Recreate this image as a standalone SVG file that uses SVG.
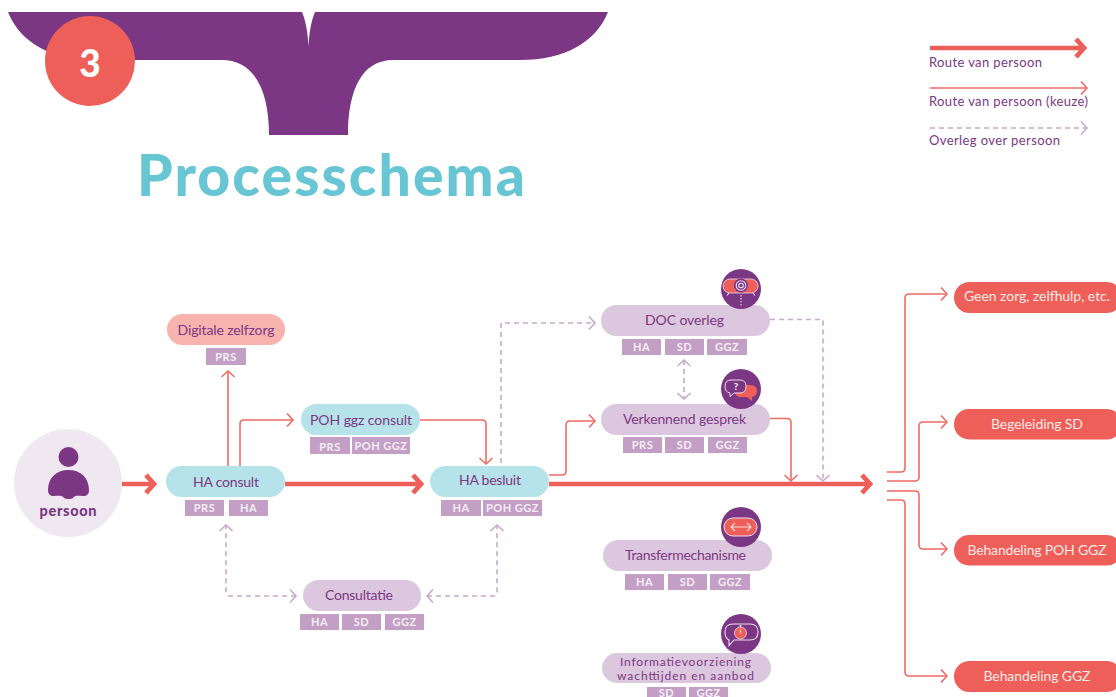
<svg xmlns="http://www.w3.org/2000/svg" width="1116" height="697" viewBox="0 0 1116 697">
<style>
text{font-family:"Lato","Liberation Sans",sans-serif}
.p{fill:#dcc8de}.b{fill:#b6e3ea}.r{fill:#ee5f59}.k{fill:#f8b3ae}
.l{font-size:14px;fill:#7c3784;text-anchor:middle}
.w{font-size:14px;fill:#fde9e6;text-anchor:middle}
.g{font-size:13px;fill:#7c3784}
.t{fill:#c39fc5}
.u{font-size:11px;font-weight:700;fill:#f6eef6;text-anchor:middle;letter-spacing:.5px}
.thin{fill:none;stroke:#ee6b64;stroke-width:1.6;marker-end:url(#ah)}
.thick{fill:none;stroke:#ee5f59;stroke-width:4.5;marker-end:url(#aT)}
.dash{fill:none;stroke:#c9a8cc;stroke-width:1.6;stroke-dasharray:5 4;marker-end:url(#ad)}
.both{marker-start:url(#ad)}
.ic{fill:#7c3784}
.o{fill:none;stroke:#ecdcee;stroke-width:1.1}
</style>
<defs>
<marker id="ah" markerUnits="userSpaceOnUse" markerWidth="16" markerHeight="18" refX="13" refY="9" orient="auto"><path d="M7 2.500L13 9L7 15.500" fill="none" stroke="#ee6b64" stroke-width="1.600"/></marker>
<marker id="ad" markerUnits="userSpaceOnUse" markerWidth="16" markerHeight="18" refX="13" refY="9" orient="auto-start-reverse"><path d="M7 2.500L13 9L7 15.500" fill="none" stroke="#c9a8cc" stroke-width="1.600"/></marker>
<marker id="aT" markerUnits="userSpaceOnUse" markerWidth="20" markerHeight="26" refX="15" refY="13" orient="auto"><path d="M6 4L14 13L6 22" fill="none" stroke="#ee5f59" stroke-width="4.800"/></marker>
</defs>

<g id="header">
<path class="ic" d="M8 12H302C305.500 20 307.800 32 308.500 46.500C309.200 32 311.500 20 315 12H608C596 42 565 60 520 60H393C362 60 348 90 348 135H269C269 90 254 60 222 60H96C50 60 20 42 8 12Z"/>
<circle class="r" cx="90" cy="61" r="45"/>
<text x="90" y="77" font-size="37" font-weight="900" fill="#fff" text-anchor="middle">3</text>
<text x="137" y="196" font-size="57" font-weight="900" fill="#67c5d4" textLength="388">Processchema</text>
</g>

<g id="legend">
<path class="thick" d="M930 48H1085"/>
<text class="g" x="929" y="67" textLength="113">Route van persoon</text>
<path class="thin" d="M930 88H1087"/>
<text class="g" x="929" y="106" textLength="159">Route van persoon (keuze)</text>
<path class="dash" d="M930 128H1087"/>
<text class="g" x="929" y="145" textLength="131">Overleg over persoon</text>
</g>

<g id="connectors">
<path class="thick" d="M122 484H155"/>
<path class="thick" d="M285 484H422"/>
<path class="thick" d="M549 484H871"/>
<path class="thin" d="M228 466V371"/>
<path class="thin" d="M240 466V424Q240 420 244 420H293"/>
<path class="thin" d="M420 420H482Q486 420 486 424V464"/>
<path class="thin" d="M549 475H562Q566 475 566 471V425Q566 421 570 421H595"/>
<path class="thin" d="M770 418.500H787Q791 418.500 791 422.500V481"/>
<path class="dash" d="M501 463V323H595"/>
<path class="dash" d="M770 319.500H823V481"/>
<path class="dash both" d="M684 360V399"/>
<path class="dash both" d="M296 596H230Q226 596 226 592V525"/>
<path class="dash both" d="M427 596H493Q497 596 497 592V525"/>
<path class="thin" d="M887 472H901Q905 472 905 468V298Q905 294 909 294H947"/>
<path class="thin" d="M887 481H915Q919 481 919 477V426Q919 422 923 422H947"/>
<path class="thin" d="M887 491H915Q919 491 919 495V545Q919 549 923 549H947"/>
<path class="thin" d="M887 500H901Q905 500 905 504V672Q905 676 909 676H947"/>
</g>

<g id="persoon">
<circle cx="68" cy="483" r="54" fill="#efe8f1"/>
<circle class="ic" cx="68.500" cy="457" r="10"/>
<path class="ic" d="M48 490C48 477 57 470 68.500 470C80 470 89 477 89 490C89 494 87 496 83 496C78 496 75 495 73 498Q72 499 68.500 499Q65 499 64 498C62 495 59 496 54 496C50 496 48 494 48 490Z"/>
<text x="68" y="516" font-size="14.500" font-weight="900" fill="#7c3784" text-anchor="middle" textLength="57">persoon</text>
</g>

<g id="digitale-zelfzorg">
<rect class="k" x="167" y="314" width="118" height="31" rx="15.500"/>
<text class="l" x="226" y="335" textLength="97">Digitale zelfzorg</text>
<rect class="t" x="206" y="348" width="40" height="17"/><text class="u" x="226" y="360.500">PRS</text>
</g>

<g id="ha-consult">
<rect class="b" x="166" y="466" width="119" height="31" rx="15.500"/>
<text class="l" x="226" y="486.500" textLength="66">HA consult</text>
<rect class="t" x="185" y="500" width="39" height="16"/><text class="u" x="204.500" y="512">PRS</text>
<rect class="t" x="229" y="500" width="39" height="16"/><text class="u" x="248.500" y="512">HA</text>
</g>

<g id="poh-ggz-consult">
<rect class="b" x="301" y="404" width="119" height="31" rx="15.500"/>
<text class="l" x="361" y="424.500" textLength="102">POH ggz consult</text>
<rect class="t" x="310" y="437" width="40" height="17"/><text class="u" x="330" y="451">PRS</text>
<rect class="t" x="352" y="437" width="58" height="17"/><text class="u" x="381" y="450">POH GGZ</text>
</g>

<g id="ha-besluit">
<rect class="b" x="430" y="466" width="119" height="31" rx="15.500"/>
<text class="l" x="490" y="485" textLength="62">HA besluit</text>
<rect class="t" x="441" y="500" width="40" height="16"/><text class="u" x="461" y="512">HA</text>
<rect class="t" x="483" y="500" width="59" height="16"/><text class="u" x="512.500" y="512">POH GGZ</text>
</g>

<g id="consultatie">
<rect class="p" x="303" y="580" width="118" height="31" rx="15.500"/>
<text class="l" x="359" y="600" textLength="68">Consultatie</text>
<rect class="t" x="300" y="614" width="39" height="16"/><text class="u" x="319.500" y="626">HA</text>
<rect class="t" x="342" y="614" width="39" height="16"/><text class="u" x="361.500" y="626">SD</text>
<rect class="t" x="385" y="614" width="39" height="16"/><text class="u" x="404.500" y="626">GGZ</text>
</g>

<g id="doc-overleg">
<rect class="p" x="601" y="305" width="169" height="31" rx="15.500"/>
<text class="l" x="684.500" y="324.500" textLength="79">DOC overleg</text>
<rect class="t" x="622" y="339" width="39" height="16"/><text class="u" x="641.500" y="351">HA</text>
<rect class="t" x="665" y="339" width="39" height="16"/><text class="u" x="684.500" y="351">SD</text>
<rect class="t" x="707" y="339" width="40" height="16"/><text class="u" x="727" y="351">GGZ</text>
<circle class="ic" cx="741" cy="289" r="20"/>
<rect class="r" x="723" y="279" width="35" height="14" rx="7" stroke="#ecdcee" stroke-width=".8"/>
<circle cx="741" cy="285.500" r="7" fill="#7c3784"/>
<circle class="o" cx="741" cy="285.500" r="4.800"/>
<circle class="o" cx="741" cy="285.500" r="2.300"/>
<path d="M741 295V306" fill="none" stroke="#ecdcee" stroke-width="1.100" stroke-dasharray="1.500 1.500"/>
<path class="o" d="M729 293l-2 2.500M753 293l2 2.500"/>
</g>

<g id="verkennend-gesprek">
<rect class="p" x="601" y="404" width="169" height="31" rx="15.500"/>
<text class="l" x="684.500" y="423.500" textLength="123">Verkennend gesprek</text>
<rect class="t" x="623" y="437" width="39" height="16"/><text class="u" x="642.500" y="449">PRS</text>
<rect class="t" x="665" y="437" width="39" height="16"/><text class="u" x="684.500" y="449">SD</text>
<rect class="t" x="708" y="437" width="39" height="16"/><text class="u" x="727.500" y="449">GGZ</text>
<circle class="ic" cx="741" cy="389" r="20"/>
<path class="r" d="M741 385H750Q757 385 757 391Q757 396 752 397L752 401L747 397H741Q735 397 735 391Q735 385 741 385Z"/>
<path d="M731 380H740Q746 380 746 386.500Q746 393 740 393H734L730 396.500V393Q725 392 725 386.500Q725 380 731 380Z" fill="#7c3784" stroke="#ecdcee" stroke-width="1"/>
<text x="736" y="390" font-size="9.500" font-weight="900" fill="#f6eef6" text-anchor="middle">?</text>
</g>

<g id="transfermechanisme">
<rect class="p" x="603" y="540" width="169" height="31" rx="15.500"/>
<text class="l" x="685.500" y="560" textLength="121">Transfermechanisme</text>
<rect class="t" x="625" y="574" width="39" height="16"/><text class="u" x="644.500" y="586">HA</text>
<rect class="t" x="668" y="574" width="39" height="16"/><text class="u" x="687.500" y="586">SD</text>
<rect class="t" x="710" y="574" width="40" height="16"/><text class="u" x="730" y="586">GGZ</text>
<circle class="ic" cx="741" cy="527" r="20"/>
<rect class="r" x="724" y="518" width="33" height="18" rx="9" stroke="#ecdcee" stroke-width="1"/>
<path d="M731 527H751M735 523L731 527L735 531M747 523L751 527L747 531" fill="none" stroke="#fbdcd8" stroke-width="1.100"/>
</g>

<g id="informatievoorziening">
<rect class="p" x="602" y="653" width="169" height="30" rx="15"/>
<text class="l" style="font-size:12px" x="685.500" y="665.500" textLength="131">Informatievoorziening</text>
<text class="l" style="font-size:12px" x="685.500" y="679.500" textLength="137">wachttijden en aanbod</text>
<rect class="t" x="647" y="687" width="39" height="16"/><text class="u" x="666.500" y="696.500">SD</text>
<rect class="t" x="689" y="687" width="39" height="16"/><text class="u" x="708.500" y="696.500">GGZ</text>
<circle class="ic" cx="741" cy="634" r="20"/>
<path class="o" d="M733 624H750Q758 624 758 632Q758 640 750 640H734L729 645.500V640Q725 638 725 632Q725 624 733 624Z"/>
<circle class="r" cx="740.500" cy="633" r="6" stroke="#ecdcee" stroke-width=".8"/>
<path d="M740.500 629.500V633.500" stroke="#fbdcd8" stroke-width="1.100"/>
<path d="M740.500 627V625" stroke="#ecdcee" stroke-width="1.600"/>
</g>

<g id="geen-zorg">
<rect class="r" x="954" y="282" width="168" height="31" rx="15.500"/>
<text class="w" x="1037" y="301" textLength="146">Geen zorg, zelfhulp, etc.</text>
</g>
<g id="begeleiding-sd">
<rect class="r" x="954" y="409" width="168" height="30.500" rx="15"/>
<text class="w" x="1037" y="428.500" textLength="92">Begeleiding SD</text>
</g>
<g id="behandeling-poh-ggz">
<rect class="r" x="954" y="535" width="168" height="30.500" rx="15"/>
<text class="w" x="1037" y="554.500" textLength="139">Behandeling POH GGZ</text>
</g>
<g id="behandeling-ggz">
<rect class="r" x="954" y="661" width="168" height="31" rx="15.500"/>
<text class="w" x="1037" y="681" textLength="107">Behandeling GGZ</text>
</g>
</svg>
